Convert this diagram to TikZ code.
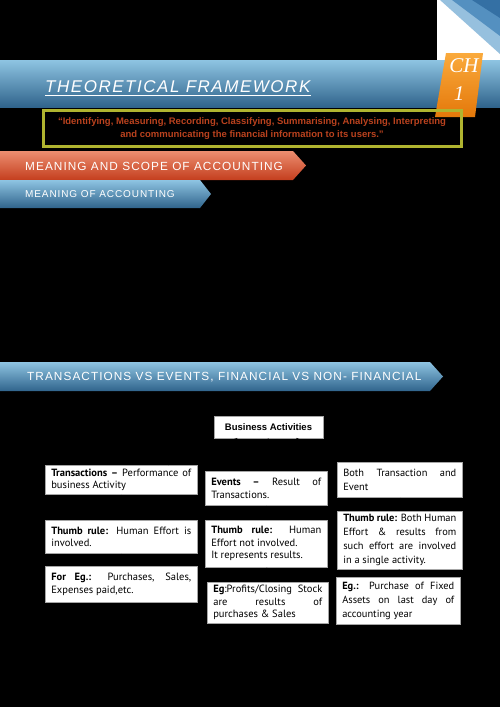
\documentclass[tikz,border=0pt]{standalone}
\usepackage{fontspec}
\setmainfont{Liberation Sans}
\newfontfamily\boxfont{PT Sans}
\newfontfamily\banfont[LetterSpace=9]{Liberation Sans}
\newfontfamily\titlefont[LetterSpace=9]{Liberation Sans}
\newfontfamily\chfont{Liberation Serif}
\usetikzlibrary{arrows.meta,positioning}
\hyphenpenalty=10000
\exhyphenpenalty=10000
\tolerance=9999
\emergencystretch=20pt

\definecolor{bandtop}{RGB}{142,196,226}
\definecolor{bandbot}{RGB}{48,100,140}
\definecolor{redtop}{RGB}{236,142,112}
\definecolor{redbot}{RGB}{196,62,30}
\definecolor{tagtop}{RGB}{250,170,60}
\definecolor{tagbot}{RGB}{228,120,10}
\definecolor{quoteframe}{RGB}{176,180,48}
\definecolor{quotered}{RGB}{186,66,30}
\definecolor{cornerlight}{RGB}{150,192,222}
\definecolor{cornermid}{RGB}{84,144,192}
\definecolor{cornerdark}{RGB}{52,112,164}

\begin{document}
\begin{tikzpicture}[
  x=1pt, y=-1pt,
  >=Latex,
  box/.style={draw=gray!70, fill=white, line width=0.6pt, anchor=north west,
    inner xsep=6pt, inner ysep=3pt, align=justify,
    font=\boxfont\fontsize{10.5}{12.5}\selectfont},
  bigbox/.style={box, font=\boxfont\fontsize{10.4}{14}\selectfont},
  bantext/.style={text=white, anchor=west, inner sep=0pt},
  link/.style={->, draw=black, line width=0.6pt}
]
\useasboundingbox (0,0) rectangle (500,707);
\fill[black] (0,0) rectangle (500,707);

% page corner
\fill[white] (437,0) rectangle (500,61);
\fill[cornerlight] (440,0) -- (500,0) -- (500,54) -- cycle;
\fill[cornermid] (452,0) -- (500,0) -- (500,36) -- cycle;
\fill[cornerdark] (472,0) -- (500,0) -- (500,18) -- cycle;

% chapter banner
\shade[top color=bandtop, bottom color=bandbot] (0,60) rectangle (500,107);
\node[bantext, anchor=base west, font=\titlefont\itshape\fontsize{17}{17}\selectfont]
  (title) at (45,92) {THEORETICAL FRAMEWORK};
\draw[white, line width=0.8pt] ([yshift=-3pt]title.base west) -- ([yshift=-3pt]title.base east);

% chapter tag
\shade[top color=tagtop, bottom color=tagbot] (446,53) -- (483,53) -- (475,117) -- (435,117) -- cycle;
\node[text=white, font=\chfont\itshape\fontsize{21}{21}\selectfont] (ch) at (464,66) {CH};
\node[text=white, font=\chfont\itshape\fontsize{21}{21}\selectfont] (chno) at (459,94) {1};

% quote frame
\draw[quoteframe, line width=3pt] (43,110) rectangle (461,146);
\node[text=quotered, align=center, font=\bfseries\fontsize{9.5}{13}\selectfont]
  (quote) at (252,129) {``Identifying, Measuring, Recording, Classifying, Summarising, Analysing, Interpreting\\
  and communicating the financial information to its users.''};

% section banners
\shade[top color=redtop, bottom color=redbot]
  (0,151) -- (293,151) -- (306,165.5) -- (293,180) -- (0,180) -- cycle;
\node[bantext, font=\banfont\fontsize{11.8}{12}\selectfont] (scope) at (25,166)
  {MEANING AND SCOPE OF ACCOUNTING};
\shade[top color=bandtop, bottom color=bandbot]
  (0,180) -- (200,180) -- (211,194) -- (200,208) -- (0,208) -- cycle;
\node[bantext, font=\banfont\fontsize{10}{10}\selectfont] (meaning) at (25,194)
  {MEANING OF ACCOUNTING};
\shade[top color=bandtop, bottom color=bandbot]
  (0,362) -- (430,362) -- (443,376.5) -- (430,391) -- (0,391) -- cycle;
\node[bantext, font=\banfont\fontsize{11.8}{12}\selectfont] (tve) at (27,377)
  {TRANSACTIONS VS EVENTS, FINANCIAL VS NON- FINANCIAL};

% chart
\node[draw=gray!70, fill=white, minimum width=109pt, minimum height=22pt,
  font=\bfseries\fontsize{9.5}{11}\selectfont] (bact) at (268.5,427) {Business Activities};

\node[box, text width=140pt, minimum height=29pt] (trans) at (45,465)
  {\textbf{Transactions –} Performance of business Activity};
\node[box, text width=140pt, minimum height=33pt] (transrule) at (45,520)
  {\textbf{Thumb rule:} Human Effort is involved.};
\node[box, text width=140pt, minimum height=36pt] (transeg) at (45,566)
  {\textbf{For Eg.:} Purchases, Sales, Expenses paid,etc.};

\node[box, text width=110pt, minimum height=34pt] (event) at (205,471)
  {\textbf{Events –} Result of Transactions.};
\node[box, text width=110pt, minimum height=47pt] (eventrule) at (205,520)
  {\textbf{Thumb rule:} Human Effort not involved.\\It represents results.};
\node[box, text width=109pt, minimum height=41pt] (eventeg) at (207,582)
  {\textbf{Eg}:Profits/Closing Stock\linebreak are results of\linebreak purchases \& Sales};

\node[bigbox, text width=113pt, minimum height=35pt] (both) at (337,462)
  {Both Transaction and Event};
\node[bigbox, text width=113pt, minimum height=54pt] (bothrule) at (337,511)
  {\textbf{Thumb rule:} Both Human Effort \& results from\linebreak such effort are involved in a single activity.};
\node[bigbox, text width=112pt, minimum height=47pt] (botheg) at (336,577)
  {\textbf{Eg.:} Purchase of Fixed Assets on last day of accounting year};

\draw[link] (bact) -- (trans);
\draw[link] (bact) -- (event);
\draw[link] (bact) -- (both);
\draw[link] (trans) -- (transrule);
\draw[link] (transrule) -- (transeg);
\draw[link] (event) -- (eventrule);
\draw[link] (eventrule) -- (eventeg);
\draw[link] (both) -- (bothrule);
\draw[link] (bothrule) -- (botheg);
\end{tikzpicture}
\end{document}
